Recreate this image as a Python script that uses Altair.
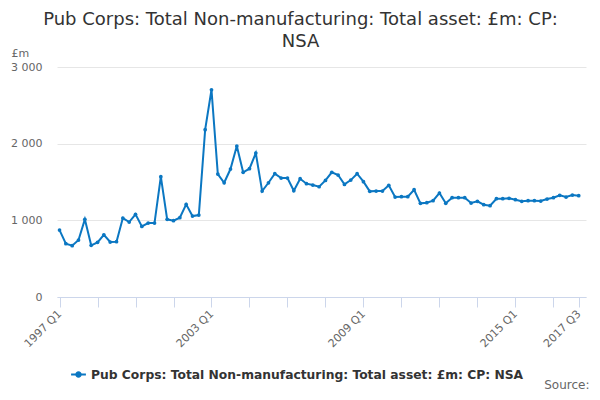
import altair as alt
import pandas as pd

series_name = "Pub Corps: Total Non-manufacturing: Total asset: £m: CP: NSA"
title_lines = ["Pub Corps: Total Non-manufacturing: Total asset: £m: CP:", "NSA"]

quarters = [f"{y} Q{q}" for y in range(1997, 2018) for q in range(1, 5)][:83]

values = [
    873, 695, 669, 743, 1013, 674, 713, 812, 717, 721,
    1030, 978, 1078, 921, 965, 965, 1569, 1013, 995, 1034,
    1208, 1056, 1069, 2182, 2703, 1604, 1490, 1669, 1969, 1626,
    1673, 1877, 1382, 1490, 1608, 1551, 1551, 1386, 1543, 1478,
    1460, 1438, 1521, 1626, 1591, 1469, 1525, 1608, 1504, 1378,
    1382, 1382, 1456, 1304, 1308, 1308, 1399, 1222, 1230, 1256,
    1356, 1222, 1295, 1295, 1295, 1226, 1248, 1204, 1191, 1282,
    1282, 1287, 1269, 1248, 1256, 1256, 1252, 1278, 1295, 1326,
    1304, 1330, 1321,
]

tick_positions = list(range(0, 80, 6)) + [82]
label_positions = [0, 24, 48, 72, 82]
y_ticks = [0, 1000, 2000, 3000]

df = pd.DataFrame({
    "i": list(range(len(values))),
    "quarter": quarters,
    "value": values,
    "series": [series_name] * len(values),
})

labels_js = "[" + ",".join(f"'{q}'" for q in quarters) + "]"
show_js = "[" + ",".join(str(p) for p in label_positions) + "]"
x_label_expr = f"indexof({show_js}, datum.value) >= 0 ? {labels_js}[datum.value] : ''"

blue = "#0b77c2"
font = "DejaVu Sans"

legend_symbol = "M-1,0H1M-0.3,0A0.3,0.3,0,1,1,0.3,0A0.3,0.3,0,1,1,-0.3,0Z"

chart = alt.Chart(df).mark_line(
    point=alt.OverlayMarkDef(filled=True, size=14),
    strokeWidth=2,
).encode(
    x=alt.X(
        "i:Q",
        scale=alt.Scale(domain=[-0.4, 83.15], nice=False, zero=False),
        axis=alt.Axis(
            values=tick_positions,
            labelExpr=x_label_expr,
            labelAngle=-45,
            labelAlign="right",
            labelBaseline="middle",
            labelColor="#666666",
            labelFontSize=11,
            labelFont=font,
            labelPadding=5,
            labelOverlap=False,
            labelBound=False,
            labelFlush=False,
            grid=False,
            domainColor="#ccd6eb",
            tickColor="#ccd6eb",
            tickSize=10,
            title="Source:",
            titleX=532,
            titleY=87.5,
            titleAlign="right",
            titleBaseline="middle",
            titleFont=font,
            titleFontSize=12,
            titleFontWeight="normal",
            titleColor="#666666",
        ),
    ),
    y=alt.Y(
        "value:Q",
        scale=alt.Scale(domain=[0, 3000], nice=False),
        axis=alt.Axis(
            values=y_ticks,
            labelExpr="replace(format(datum.value, ','), ',', ' ')",
            labelColor="#666666",
            labelFontSize=11,
            labelFont=font,
            labelPadding=15,
            domain=False,
            ticks=False,
            gridColor="#e6e6e6",
            title="£m",
            titleAngle=0,
            titleX=-46,
            titleY=-14,
            titleAlign="left",
            titleBaseline="middle",
            titleFont=font,
            titleFontSize=11,
            titleFontWeight="normal",
            titleColor="#666666",
        ),
    ),
    color=alt.Color(
        "series:N",
        scale=alt.Scale(domain=[series_name], range=[blue]),
        legend=alt.Legend(
            orient="none",
            legendX=13,
            legendY=299,
            title=None,
            symbolType=legend_symbol,
            symbolSize=220,
            symbolStrokeWidth=2,
            symbolStrokeColor=blue,
            symbolFillColor=blue,
            labelFont=font,
            labelFontSize=12.3,
            labelFontWeight="bold",
            labelColor="#333333",
            labelLimit=600,
        ),
    ),
).properties(
    width=529,
    height=230,
    title=alt.TitleParams(
        text=title_lines,
        font=font,
        fontSize=18,
        fontWeight="normal",
        color="#333333",
        anchor="middle",
        dx=-21,
        offset=-4,
        lineHeight=22,
    ),
    padding={"left": 49, "top": 59, "right": 6, "bottom": 95},
    autosize=alt.AutoSizeParams(type="none"),
).configure_view(stroke=None)

chart.save("out.html", embed_options={"renderer": "svg", "actions": False})
